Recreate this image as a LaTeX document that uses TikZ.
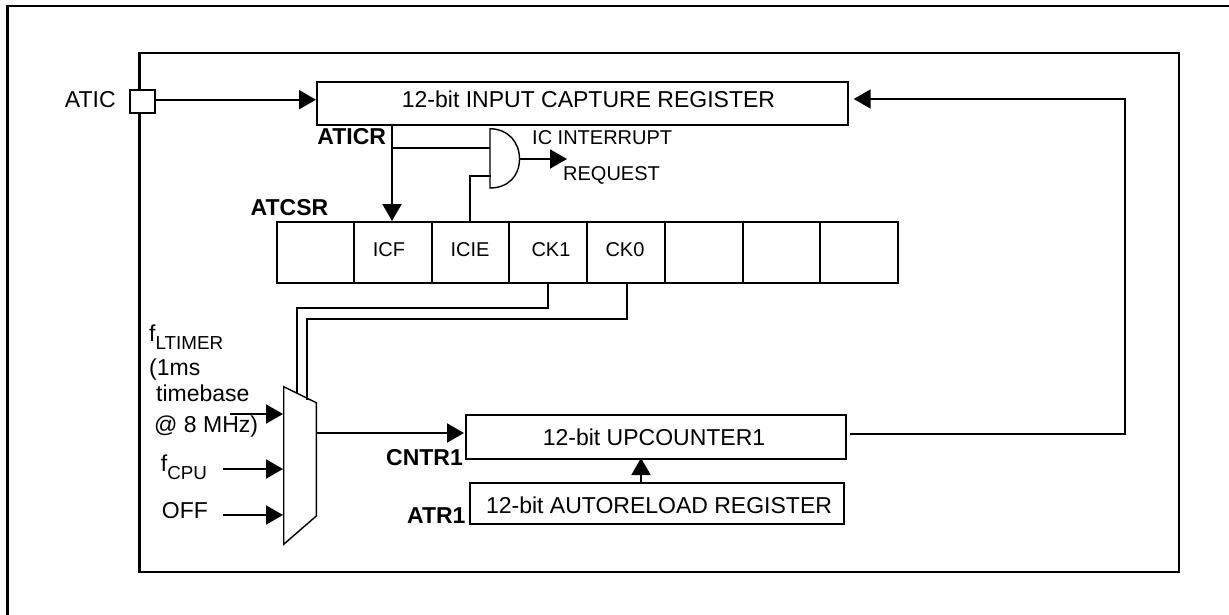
\documentclass[tikz,border=0pt]{standalone}
\usepackage{fontspec}
\setmainfont{Liberation Sans}
\usetikzlibrary{arrows.meta}
\tikzset{
  wire/.style={line width=2pt,line cap=butt},
  arrowwire/.style={wire,-{Triangle[length=17pt,width=19pt]},shorten >=0pt},
  boxn/.style={draw,line width=2.1pt,anchor=north west,inner sep=0pt,fill=white},
  gate/.style={draw,line width=1.4pt,fill=white},
  big/.style={font=\fontsize{23}{27}\selectfont,inner sep=0pt,anchor=base},
  lft/.style={font=\fontsize{23}{27}\selectfont,inner sep=0pt,anchor=base west},
  bld/.style={font=\fontsize{23}{27}\selectfont\bfseries,inner sep=0pt,anchor=base},
  mid/.style={font=\fontsize{20}{24}\selectfont,inner sep=0pt,anchor=base},
}
\newcommand{\subt}[1]{{\fontsize{18.8}{20}\selectfont\raisebox{-7.4pt}{#1}}}
\begin{document}
\begin{tikzpicture}[x=1pt,y=-1pt]
\useasboundingbox (0,0) rectangle (1229,615);
% frames
\coordinate (oa) at (7.5,615); \coordinate (ob) at (7.5,6); \coordinate (oc) at (1229,6);
\draw[line width=2.2pt] (oa) -- (ob) -- (oc);
\coordinate (ia) at (139.5,52.7); \coordinate (ib) at (1179.3,571.7);
\draw[line width=2.2pt] (ia) rectangle (ib);
% boxes
\node[boxn,minimum width=24.7pt,minimum height=23.3pt] (aticbox) at (129.3,88.7) {};
\node[boxn,minimum width=530.6pt,minimum height=43.3pt] (capreg) at (316,80.7) {};
\node[boxn,minimum width=380pt,minimum height=44pt] (upcnt) at (465,414) {};
\node[boxn,minimum width=373.7pt,minimum height=41.3pt] (atr) at (469.3,481.7) {};
% register cells
\node[boxn,minimum width=77.1pt,minimum height=60.7pt] (c0) at (275.6,221) {};
\node[boxn,minimum width=78.3pt,minimum height=60.7pt] (c1) at (352.7,221) {};
\node[boxn,minimum width=77pt,minimum height=60.7pt] (c2) at (431,221) {};
\node[boxn,minimum width=78pt,minimum height=60.7pt] (c3) at (508,221) {};
\node[boxn,minimum width=78pt,minimum height=60.7pt] (c4) at (586,221) {};
\node[boxn,minimum width=78pt,minimum height=60.7pt] (c5) at (664,221) {};
\node[boxn,minimum width=77pt,minimum height=60.7pt] (c6) at (742,221) {};
\node[boxn,minimum width=78pt,minimum height=60.7pt] (c7) at (819,221) {};
% mux
\coordinate (m1) at (283.7,386.7); \coordinate (m2) at (316.3,402.7);
\coordinate (m3) at (316.3,516); \coordinate (m4) at (283.7,544.3);
\draw[gate] (m1) -- (m2) -- (m3) -- (m4) -- cycle;
% AND gate
\coordinate (g1) at (490,128.7); \coordinate (g2) at (490,188); \coordinate (gout) at (519.5,159);
\draw[gate] (g1) .. controls (508,129) and (519.5,142) .. (gout) .. controls (519.5,176) and (508,188) .. (g2) -- cycle;
% coordinates for connectors
\coordinate (p1) at (154,99.7); \coordinate (p2) at (316,99.7);
\coordinate (fbs) at (850,433.7); \coordinate (fbc) at (1124.7,433.7); \coordinate (fbd) at (1124.7,99); \coordinate (fbe) at (853.7,99);
\coordinate (muxo) at (316.3,433); \coordinate (upi) at (464,433);
\coordinate (relo) at (641,481.7); \coordinate (reli) at (641,458);
\coordinate (t0) at (392,124); \coordinate (t1) at (392,221); \coordinate (t2) at (392,147.7); \coordinate (t3) at (490,147.7);
\coordinate (e0) at (469.7,221); \coordinate (e1) at (469.7,175.7); \coordinate (e2) at (491,175.7);
\coordinate (gtip) at (567,159);
\coordinate (s1a) at (548,281.7); \coordinate (s1b) at (548,308); \coordinate (s1c) at (297.3,308); \coordinate (s1d) at (297.3,393);
\coordinate (s0a) at (627,281.7); \coordinate (s0b) at (627,319); \coordinate (s0c) at (307,319); \coordinate (s0d) at (307,400);
\coordinate (i1a) at (230,414); \coordinate (i1b) at (283,414);
\coordinate (i2a) at (223,469); \coordinate (i2b) at (283,469);
\coordinate (i3a) at (223,515); \coordinate (i3b) at (283,515);
% connectors
\draw[arrowwire] (p1) -- (p2);
\draw[arrowwire] (fbs) -- (fbc) -- (fbd) -- (fbe);
\draw[arrowwire] (muxo) -- (upi);
\draw[arrowwire] (relo) -- (reli);
\draw[arrowwire] (t0) -- (t1);
\draw[wire] (t2) -- (t3);
\draw[wire] (e0) -- (e1) -- (e2);
\draw[arrowwire] (gout) -- (gtip);
\draw[wire] (s1a) -- (s1b) -- (s1c) -- (s1d);
\draw[wire] (s0a) -- (s0b) -- (s0c) -- (s0d);
\draw[arrowwire] (i1a) -- (i1b);
\draw[arrowwire] (i2a) -- (i2b);
\draw[arrowwire] (i3a) -- (i3b);
% box texts
\node[big] (tcap) at (588.5,108) {12-bit INPUT CAPTURE REGISTER};
\node[big] (tup) at (654,445.7) {12-bit UPCOUNTER1};
\node[big] (tatr) at (659,513) {12-bit AUTORELOAD REGISTER};
\node[mid] (tc1) at (389,256) {ICF};
\node[mid] (tc2) at (470,256) {ICIE};
\node[mid] (tc3) at (551,256) {CK1};
\node[mid] (tc4) at (625,256) {CK0};
% labels
\node[big] (latic) at (90.3,108) {ATIC};
\node[bld] (laticr) at (351.7,145) {ATICR};
\node[bld] (latcsr) at (289.5,215) {ATCSR};
\node[bld] (lcntr) at (424.5,465.7) {CNTR1};
\node[bld] (latr) at (436.3,523.7) {ATR1};
\node[mid,anchor=base west] (lint) at (532,145) {IC INTERRUPT};
\node[mid,anchor=base west] (lreq) at (563,181) {REQUEST};
\node[lft] (lf1) at (149,341.7) {f\subt{LTIMER}};
\node[lft] (lf2) at (149,375) {(1ms};
\node[lft] (lf3) at (156,401.7) {timebase};
\node[lft] (lf4) at (154,432.7) {@ 8 MHz)};
\node[lft] (lf5) at (160.7,471.7) {f\subt{CPU}};
\node[lft] (lf6) at (161.7,518) {OFF};
\end{tikzpicture}
\end{document}
